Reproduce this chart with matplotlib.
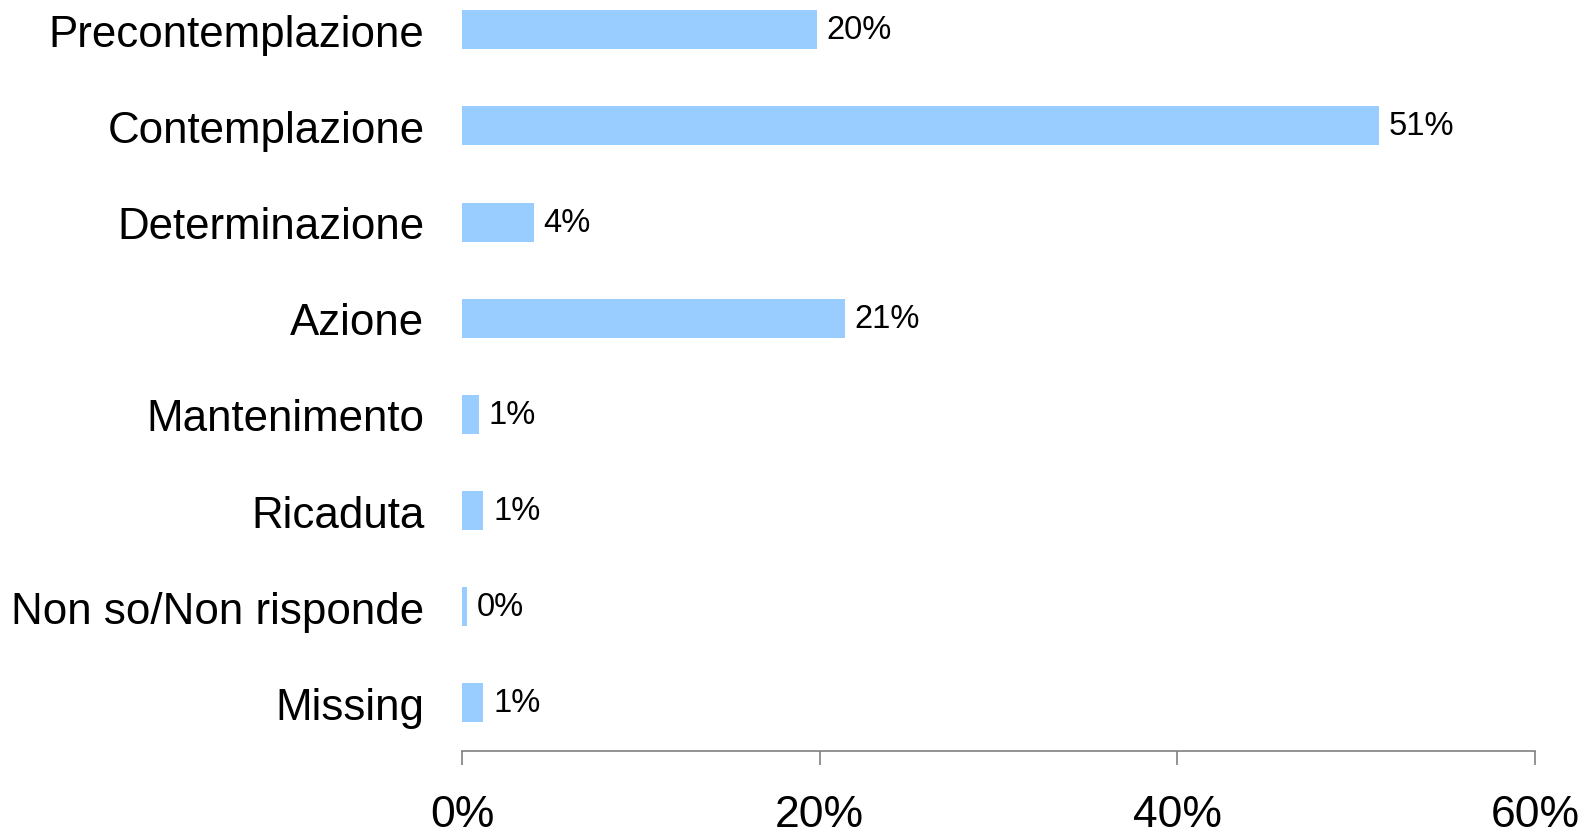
import numpy as np
import matplotlib.pyplot as plt

categories = ["Precontemplazione", "Contemplazione", "Determinazione", "Azione",
              "Mantenimento", "Ricaduta", "Non so/Non risponde", "Missing"]
values = [19.85, 51.3, 4.0, 21.4, 0.95, 1.2, 0.26, 1.2]
value_labels = ["20%", "51%", "4%", "21%", "1%", "1%", "0%", "1%"]
x_ticks = [0, 20, 40, 60]
x_tick_labels = ["0%", "20%", "40%", "60%"]


def main():
    plt.rcParams['font.family'] = ['Liberation Sans', 'DejaVu Sans']

    fig = plt.figure(figsize=(15.89, 8.37), dpi=100)
    W, H = 1589, 837
    left, right = 462 / W, 1535 / W
    bottom = 1 - 752 / H
    ax = fig.add_axes([left, bottom, right - left, 1 - bottom])

    y = np.arange(len(categories))
    bars = ax.barh(y, values, height=0.405, color="#99CCFF", edgecolor="none")

    for bar, lab in zip(bars, value_labels):
        ax.annotate(lab, (bar.get_width(), bar.get_y() + bar.get_height() / 2),
                    xytext=(7, 0), textcoords="offset points",
                    va="center", ha="left", fontsize=23.5)

    ax.set_xlim(0, 60)
    ax.set_ylim(7.5, -0.32)
    ax.set_yticks(y)
    ax.set_yticklabels(categories, fontsize=31.6)
    ax.set_xticks(x_ticks)
    ax.set_xticklabels(x_tick_labels, fontsize=32)

    for s in ["top", "right", "left"]:
        ax.spines[s].set_visible(False)
    ax.spines["bottom"].set_color("#808080")
    ax.spines["bottom"].set_linewidth(1.2)
    ax.tick_params(axis="y", length=0, pad=27)
    ax.tick_params(axis="x", length=10, width=1.2, color="#808080", pad=21)

    fig.savefig("out.png", dpi=100)


if __name__ == '__main__':
    main()
